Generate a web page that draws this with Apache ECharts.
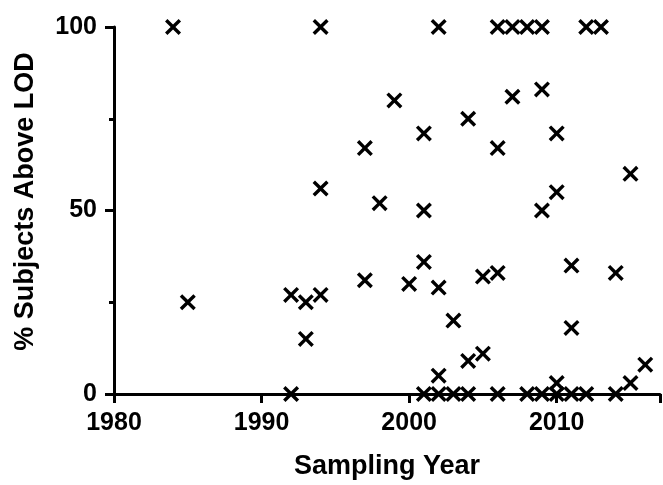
<!DOCTYPE html>
<html>
<head>
<meta charset="utf-8">
<script src="https://cdn.jsdelivr.net/npm/echarts@6/dist/echarts.min.js"></script>
<style>
  html, body { margin: 0; padding: 0; background: #fff; }
  #chart { width: 663px; height: 485px; }
</style>
</head>
<body>
<div id="chart"></div>
<script>
// sampling year of each study and % of subjects above LOD
var years = [
  1984, 1985, 1992, 1992, 1993, 1993, 1994, 1994, 1994,
  1997, 1997, 1998, 1999, 2000,
  2001, 2001, 2001, 2001, 2002, 2002, 2002, 2002,
  2003, 2003, 2004, 2004, 2004, 2005, 2005,
  2006, 2006, 2006, 2006, 2007, 2007, 2008, 2008,
  2009, 2009, 2009, 2009, 2010, 2010, 2010, 2010,
  2011, 2011, 2011, 2012, 2012, 2013, 2014, 2014,
  2015, 2015, 2016
];
var percents = [
  100, 25, 27, 0, 25, 15, 100, 56, 27,
  67, 31, 52, 80, 30,
  71, 50, 36, 0, 100, 29, 5, 0,
  20, 0, 75, 9, 0, 32, 11,
  100, 67, 33, 0, 100, 81, 100, 0,
  100, 83, 50, 0, 71, 55, 3, 0,
  35, 18, 0, 100, 0, 100, 33, 0,
  60, 3, 8
];
var xTicks = [1980, 1990, 2000, 2010];
var yTicks = [0, 50, 100];

var points = [];
for (var i = 0; i < years.length; i++) {
  points.push([years[i], percents[i]]);
}

// filled "x" marker
var crossPath = "path://M0,15L15,0L50,35L85,0L100,15L65,50L100,85L85,100L50,65L15,100L0,85L35,50Z";

var font = "'Liberation Sans', Arial, sans-serif";

var chart = echarts.init(document.getElementById("chart"));
var option = {
  animation: false,
  grid: { left: 114, right: -3, top: 27, bottom: 89 },
  xAxis: {
    type: "value",
    min: 1980,
    max: 2017,
    interval: 10,
    name: "Sampling Year",
    nameLocation: "middle",
    nameGap: 59,
    nameTextStyle: { fontSize: 27, fontWeight: "bold", color: "#000", fontFamily: font },
    splitLine: { show: false },
    axisLine: { onZero: false, lineStyle: { color: "#000", width: 3 } },
    axisTick: { length: 9, lineStyle: { color: "#000", width: 3 } },
    axisLabel: {
      margin: 17,
      fontSize: 25,
      fontWeight: "bold",
      color: "#000",
      fontFamily: font,
      formatter: function (v) { return xTicks.indexOf(v) >= 0 ? String(v) : ""; }
    }
  },
  yAxis: {
    type: "value",
    min: 0,
    max: 100,
    interval: 50,
    name: "% Subjects Above LOD",
    nameLocation: "middle",
    nameGap: 75,
    nameTextStyle: {
      fontSize: 27, fontWeight: "bold", color: "#000", fontFamily: font,
      padding: [0, 0, 0, 18]
    },
    splitLine: { show: false },
    axisLine: { show: true, onZero: false, lineStyle: { color: "#000", width: 3 } },
    axisTick: { show: true, length: 9, lineStyle: { color: "#000", width: 3 } },
    minorTick: { show: true, splitNumber: 2, length: 5, lineStyle: { color: "#000", width: 3 } },
    minorSplitLine: { show: false },
    axisLabel: {
      margin: 17,
      fontSize: 25,
      fontWeight: "bold",
      color: "#000",
      fontFamily: font,
      formatter: function (v) { return yTicks.indexOf(v) >= 0 ? String(v) : ""; }
    }
  },
  series: [
    {
      type: "scatter",
      data: points,
      symbol: crossPath,
      symbolSize: 16,
      itemStyle: { color: "#000", opacity: 1 },
      clip: false
    }
  ]
};
chart.setOption(option);
</script>
</body>
</html>
